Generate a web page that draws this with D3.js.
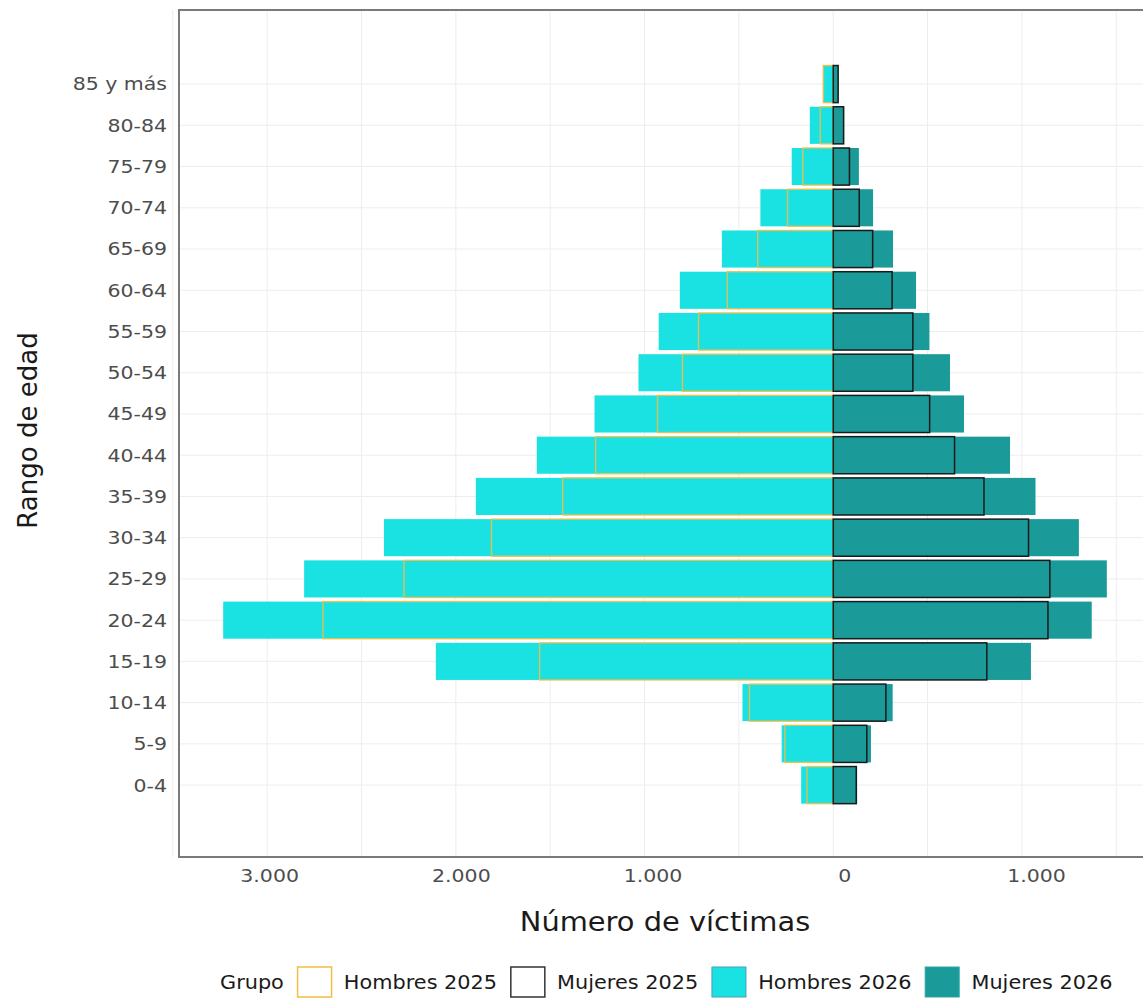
<!DOCTYPE html>
<html>
<head>
<meta charset="utf-8">
<script src="https://cdn.jsdelivr.net/npm/d3@7"></script>
<style>
  html, body { margin: 0; padding: 0; background: #ffffff; }
  svg { display: block; font-family: "DejaVu Sans", sans-serif; }
</style>
</head>
<body>
<svg id="chart" width="1143" height="998"></svg>
<script>
// ---- data ----
const categories = ["0-4","5-9","10-14","15-19","20-24","25-29","30-34","35-39","40-44","45-49","50-54","55-59","60-64","65-69","70-74","75-79","80-84","85 y más"];
const hombres2025 = [139, 256, 444, 1556, 2704, 2275, 1811, 1434, 1259, 931, 799, 714, 561, 400, 242, 161, 69, 52];
const mujeres2025 = [122, 178, 279, 814, 1138, 1148, 1035, 799, 643, 511, 422, 422, 312, 209, 138, 86, 55, 26];
const hombres2026 = [170, 273, 481, 2106, 3233, 2804, 2381, 1894, 1571, 1265, 1032, 925, 813, 590, 386, 220, 124, 55];
const mujeres2026 = [127, 200, 315, 1048, 1370, 1450, 1302, 1072, 937, 693, 619, 510, 439, 317, 211, 136, 58, 28];
const xTicks = [-3000, -2000, -1000, 0, 1000];
const legendLabels = ["Hombres 2025", "Mujeres 2025", "Hombres 2026", "Mujeres 2026"];

// ---- styles ----
const colH25 = "#F2BE45", colM25 = "#1a1a1a", colH26 = "#1BE2E2", colM26 = "#1A9A98";
const stretch = 1.12;

const svg = d3.select("#chart");
const panel = { left: 179, top: 10, right: 1151, bottom: 857 };

const maxV = d3.max(hombres2026.concat(hombres2025));
const maxW = d3.max(mujeres2026.concat(mujeres2025));
const span = maxV + maxW;
const x = d3.scaleLinear()
  .domain([-maxV - span * 0.05, maxW + span * 0.05])
  .range([panel.left, panel.right]);

const y = d3.scaleBand()
  .domain(categories.slice().reverse())
  .range([panel.top, panel.bottom])
  .paddingInner(0.1)
  .paddingOuter(1.32)
  .align(0.51);

const rows = categories.map((c, i) => ({
  cat: c, h25: hombres2025[i], m25: mujeres2025[i], h26: hombres2026[i], m26: mujeres2026[i]
}));

// gridlines
const grid = svg.append("g");
const minorTicks = d3.range(-3500, 1501, 500);
grid.selectAll("line.v").data(minorTicks).join("line")
  .attr("x1", d => x(d)).attr("x2", d => x(d))
  .attr("y1", panel.top).attr("y2", panel.bottom)
  .attr("stroke", "#ededed").attr("stroke-width", 1);
grid.selectAll("line.h").data(categories).join("line")
  .attr("x1", panel.left).attr("x2", panel.right)
  .attr("y1", d => y(d) + y.bandwidth() / 2).attr("y2", d => y(d) + y.bandwidth() / 2)
  .attr("stroke", "#ededed").attr("stroke-width", 1);

// bars 2026 (filled)
const bars = svg.append("g");
bars.selectAll("rect.h26").data(rows).join("rect")
  .attr("x", d => x(-d.h26)).attr("width", d => x(0) - x(-d.h26))
  .attr("y", d => y(d.cat)).attr("height", y.bandwidth())
  .attr("fill", colH26);
bars.selectAll("rect.m26").data(rows).join("rect")
  .attr("x", x(0)).attr("width", d => x(d.m26) - x(0))
  .attr("y", d => y(d.cat)).attr("height", y.bandwidth())
  .attr("fill", colM26);
// bars 2025 (outlines)
bars.selectAll("rect.h25").data(rows).join("rect")
  .attr("x", d => x(-d.h25)).attr("width", d => x(0) - x(-d.h25))
  .attr("y", d => y(d.cat)).attr("height", y.bandwidth())
  .attr("fill", "none").attr("stroke", colH25).attr("stroke-width", 1.4).attr("stroke-opacity", 0.9);
bars.selectAll("rect.m25").data(rows).join("rect")
  .attr("x", x(0)).attr("width", d => x(d.m25) - x(0))
  .attr("y", d => y(d.cat)).attr("height", y.bandwidth())
  .attr("fill", "none").attr("stroke", colM25).attr("stroke-width", 1.5);

// panel border (right side falls outside the picture)
svg.append("rect")
  .attr("x", panel.left).attr("y", panel.top)
  .attr("width", panel.right - panel.left).attr("height", panel.bottom - panel.top)
  .attr("fill", "none").attr("stroke", "#7a7a7a").attr("stroke-width", 2);

// x axis
const fmt = d => d3.format(",")(Math.abs(d)).replace(/,/g, ".");
const xAxis = svg.append("g")
  .attr("transform", `translate(0,${panel.bottom})`)
  .call(d3.axisBottom(x).tickValues(xTicks).tickFormat(fmt).tickSize(0).tickPadding(0));
xAxis.select(".domain").remove();
xAxis.selectAll(".tick text")
  .attr("y", 0).attr("dy", 0)
  .attr("font-size", 18.3).attr("font-family", "DejaVu Sans").attr("fill", "#4d4d4d")
  .attr("transform", d => `translate(${(x(d) - x(-3000)) * 0.016 + 2},25) scale(${stretch},1)`);

// y axis
const yAxis = svg.append("g")
  .attr("transform", `translate(${panel.left - 12},0)`)
  .call(d3.axisLeft(y).tickSize(0).tickPadding(0));
yAxis.select(".domain").remove();
yAxis.selectAll(".tick text")
  .attr("x", 0).attr("dy", "0.35em")
  .attr("font-size", 18.3).attr("font-family", "DejaVu Sans").attr("fill", "#4d4d4d")
  .attr("transform", `scale(${stretch},1)`);

// titles
svg.append("text")
  .attr("transform", `translate(${(panel.left + panel.right) / 2},931) scale(${stretch},1)`)
  .attr("text-anchor", "middle").attr("font-size", 25.8).attr("fill", "#1a1a1a")
  .text("Número de víctimas");
svg.append("text")
  .attr("transform", `translate(37,${(panel.top + panel.bottom) / 2 - 3}) rotate(-90)`)
  .attr("text-anchor", "middle").attr("font-size", 26).attr("fill", "#1a1a1a")
  .text("Rango de edad");

// legend
const leg = svg.append("g");
const legY = 989;
const legFont = 18.6;
let cx = 220;
const gt = leg.append("text").attr("font-size", legFont).attr("fill", "#1a1a1a")
  .attr("transform", `translate(${cx},${legY}) scale(${stretch},1)`).text("Grupo");
cx += gt.node().getComputedTextLength() * stretch + 13;
const keyStyles = [
  { fill: "#ffffff", stroke: colH25, sw: 1.5 },
  { fill: "#ffffff", stroke: "#333333", sw: 1.5 },
  { fill: colH26, stroke: "#4a9fb6", sw: 1 },
  { fill: colM26, stroke: "#2aa7a2", sw: 1 }
];
legendLabels.forEach((lab, i) => {
  const k = keyStyles[i];
  leg.append("rect").attr("x", cx + 0.75).attr("y", 967).attr("width", 34).attr("height", 30)
    .attr("fill", k.fill).attr("stroke", k.stroke).attr("stroke-width", k.sw);
  cx += 35 + 12;
  const t = leg.append("text").attr("font-size", legFont).attr("fill", "#1a1a1a")
    .attr("transform", `translate(${cx},${legY}) scale(${stretch},1)`).text(lab);
  cx += t.node().getComputedTextLength() * stretch + 13;
});
</script>
</body>
</html>
